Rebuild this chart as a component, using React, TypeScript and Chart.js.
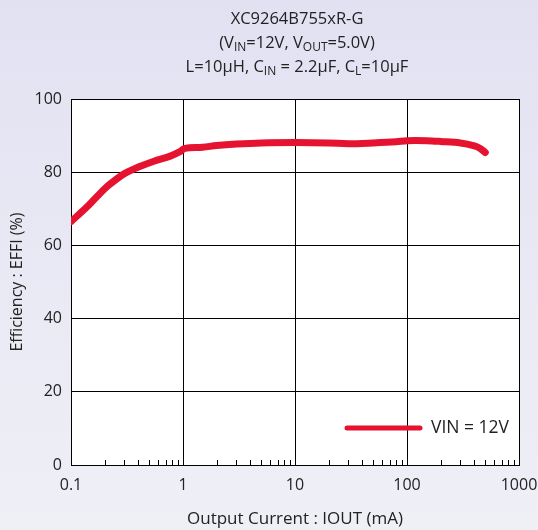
import React, { useEffect, useRef } from 'react';
import { Chart, registerables } from 'chart.js';
Chart.register(...registerables);

const currentMA = [0.1, 0.14, 0.2, 0.25, 0.3, 0.4, 0.55, 0.77, 0.94, 1.04, 1.5, 2, 3, 5, 10, 20, 30, 50, 80, 100, 150, 200, 300, 400, 450, 500];
const efficiency = [66.5, 70.6, 75.5, 77.9, 79.6, 81.4, 83.0, 84.4, 85.6, 86.5, 86.8, 87.3, 87.7, 88.0, 88.1, 88.0, 87.8, 88.0, 88.3, 88.6, 88.6, 88.4, 88.0, 87.2, 86.5, 85.4];
const xTicks = [0.1, 1, 10, 100, 1000];
const yTicks = [0, 20, 40, 60, 80, 100];
const seriesLabel = 'VIN = 12V';
const titleLines: { t: string; sub?: boolean }[][] = [
  [{ t: 'XC9264B755xR-G' }],
  [{ t: '(V' }, { t: 'IN', sub: true }, { t: '=12V, V' }, { t: 'OUT', sub: true }, { t: '=5.0V)' }],
  [{ t: 'L=10μH, C' }, { t: 'IN', sub: true }, { t: ' = 2.2μF, C' }, { t: 'L', sub: true }, { t: '=10μF' }],
];
const xTitle = 'Output Current : IOUT (mA)';
const yTitle = 'Efficiency : EFFI (%)';

const FONT = '"Open Sans", "Noto Sans", sans-serif';
const RED = '#e5132f';
const TXT = '#222';

function drawRich(ctx: CanvasRenderingContext2D, parts: { t: string; sub?: boolean }[], cx: number, y: number, size: number) {
  const subSize = Math.round(size * 0.72);
  let w = 0;
  for (const p of parts) {
    ctx.font = `${p.sub ? subSize : size}px ${FONT}`;
    w += ctx.measureText(p.t).width;
  }
  let x = cx - w / 2;
  ctx.textAlign = 'left';
  ctx.textBaseline = 'alphabetic';
  for (const p of parts) {
    ctx.font = `${p.sub ? subSize : size}px ${FONT}`;
    ctx.fillText(p.t, x, p.sub ? y + 3 : y);
    x += ctx.measureText(p.t).width;
  }
}

const overlay = {
  id: 'overlay',
  afterDraw(chart: any) {
    const ctx: CanvasRenderingContext2D = chart.ctx;
    const xs = chart.scales.x;
    const area = chart.chartArea;
    ctx.save();
    ctx.strokeStyle = '#000';
    ctx.lineWidth = 1;
    for (let d = 0; d < xTicks.length - 1; d++) {
      for (let m = 2; m <= 9; m++) {
        const px = Math.round(xs.getPixelForValue(xTicks[d] * m)) + 0.5;
        ctx.beginPath();
        ctx.moveTo(px, area.bottom);
        ctx.lineTo(px, area.bottom - 5);
        ctx.stroke();
      }
    }
    ctx.fillStyle = TXT;
    const cx = (area.left + area.right) / 2 + 2;
    drawRich(ctx, titleLines[0], cx, 24, 16.5);
    drawRich(ctx, titleLines[1], cx, 48, 16.5);
    drawRich(ctx, titleLines[2], cx, 72, 16.5);
    ctx.textAlign = 'center';
    ctx.textBaseline = 'middle';
    ctx.font = `17px ${FONT}`;
    ctx.fillText(xTitle, (area.left + area.right) / 2, 519);
    ctx.save();
    ctx.font = `16px ${FONT}`;
    ctx.translate(17, (area.top + area.bottom) / 2);
    ctx.rotate(-Math.PI / 2);
    ctx.fillText(yTitle, 0, 0);
    ctx.restore();
    ctx.strokeStyle = RED;
    ctx.lineWidth = 5;
    ctx.lineCap = 'round';
    ctx.beginPath();
    ctx.moveTo(347, 428);
    ctx.lineTo(420, 428);
    ctx.stroke();
    ctx.fillStyle = TXT;
    ctx.textAlign = 'left';
    ctx.textBaseline = 'middle';
    ctx.font = `17.5px ${FONT}`;
    ctx.fillText(seriesLabel, 431, 428);
    ctx.restore();
  },
};

export default function App() {
  const ref = useRef<HTMLCanvasElement>(null);
  useEffect(() => {
    document.body.style.margin = '0';
    const chart = new Chart(ref.current!, {
      type: 'line',
      data: {
        datasets: [
          {
            label: seriesLabel,
            data: currentMA.map((x, i) => ({ x, y: efficiency[i] })),
            borderColor: RED,
            borderWidth: 7,
            borderCapStyle: 'round',
            borderJoinStyle: 'round',
            pointRadius: 0,
            tension: 0.35,
          },
        ],
      },
      options: {
        responsive: false,
        animation: false,
        devicePixelRatio: 1,
        layout: { padding: { top: 99, right: 19, left: 0, bottom: 0 } },
        plugins: { legend: { display: false }, tooltip: { enabled: false }, title: { display: false } },
        scales: {
          x: {
            type: 'logarithmic',
            min: 0.1,
            max: 1000,
            afterBuildTicks: (s: any) => {
              s.ticks = xTicks.map((v) => ({ value: v }));
            },
            afterFit: (s: any) => {
              s.height = 65;
              s.paddingLeft = 0;
              s.paddingRight = 0;
            },
            ticks: {
              autoSkip: false,
              maxRotation: 0,
              padding: 11,
              color: TXT,
              font: { family: FONT, size: 16 },
              callback: (v: any) => String(v),
            },
            grid: { color: '#000', lineWidth: 1, drawTicks: false },
            border: { color: '#000', width: 1 },
          },
          y: {
            type: 'linear',
            min: 0,
            max: 100,
            afterBuildTicks: (s: any) => {
              s.ticks = yTicks.map((v) => ({ value: v }));
            },
            afterFit: (s: any) => {
              s.width = 71;
              s.paddingTop = 0;
              s.paddingBottom = 0;
            },
            ticks: {
              padding: 9,
              color: TXT,
              font: { family: FONT, size: 16 },
            },
            grid: { color: '#000', lineWidth: 1, drawTicks: false },
            border: { color: '#000', width: 1 },
          },
        },
      },
      plugins: [
        {
          id: 'whiteArea',
          beforeDraw(chart: any) {
            const { ctx, chartArea: a } = chart;
            ctx.save();
            ctx.fillStyle = '#fff';
            ctx.fillRect(a.left, a.top, a.right - a.left, a.bottom - a.top);
            ctx.restore();
          },
        },
        overlay,
      ],
    } as any);
    return () => chart.destroy();
  }, []);
  return (
    <div
      style={{
        width: 538,
        height: 530,
        background: 'linear-gradient(180deg, #e1e1f2 0%, #e9e9f5 50%, #efeff6 100%)',
      }}
    >
      <canvas ref={ref} width={538} height={530} style={{ display: 'block' }} />
    </div>
  );
}
